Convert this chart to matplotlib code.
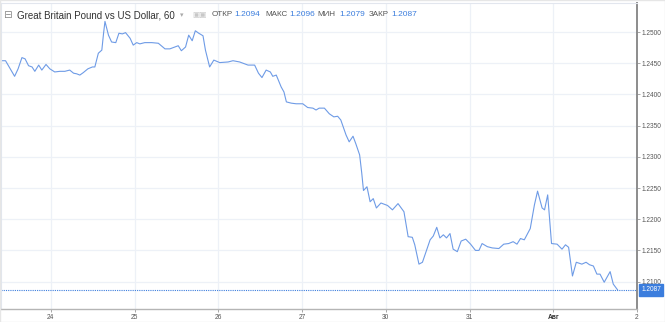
import matplotlib
matplotlib.use("Agg")
import matplotlib.pyplot as plt
from matplotlib.patches import Rectangle

# hourly bar index and GBP/USD price
hours = [0, 1, 3.6, 4.6, 5.7, 6.6, 7.6, 8.6, 9.4, 10.5, 11.4, 12.6, 13.7, 15.1, 16.6,
         18, 19.4, 20.5, 21.4, 22.3, 23.3, 24.6, 25.9, 26.6, 27.6, 28.6, 29.1, 29.5,
         30.5, 31.4, 32.6, 33.5, 34.5, 35.4, 36.7, 37.6, 38.6, 39.5, 40.9, 42.9, 44.8,
         46.7, 48.1, 49.5, 50.5, 51.4, 52.6, 53.5, 54.5, 55.4, 56.4, 57.6, 58.3, 59.5,
         60.7, 62.4, 64.8, 66.2, 68.1, 70.5, 72.4, 73.5, 74.5, 75.7, 76.9, 77.6, 78.6,
         80, 80.8, 81.5, 82.9, 84.3, 86.2, 87.6, 89.1, 90, 90.9, 92.4, 93.8, 95.1, 96.2,
         97.1, 98.6, 99.5, 100.6, 101.4, 102.5, 103.1, 103.6, 104.6, 105.5, 106.4, 107.3,
         108.6, 110.5, 111.9, 113.5, 115.2, 116.4, 117.6, 118.3, 119.5, 120.5, 122.7,
         123.6, 124.6, 125.5, 126.5, 127.4, 128.4, 129.3, 130.5, 131.6, 132.9, 134.3,
         135.7, 136.7, 137.6, 139.1, 140.5, 142.4, 143.8, 145.2, 146.5, 147.6, 148.6,
         149.7, 151.4, 152.6, 153.5, 154.8, 155.5, 156.4, 157.5, 159.1, 160.5, 161.5,
         162.4, 163.5, 164.6, 166.2, 167.4, 168.4, 169.5, 170.5, 171.4, 172.6, 174.3,
         175.2, 176.4]
prices = [1.2454, 1.2454, 1.2429, 1.2441, 1.2459, 1.2457, 1.2446, 1.2444, 1.2437, 1.2447,
          1.2439, 1.2448, 1.2441, 1.2436, 1.2437, 1.2437, 1.2439, 1.2434, 1.2433, 1.2431,
          1.2435, 1.2441, 1.2444, 1.2444, 1.2466, 1.2471, 1.2498, 1.2517, 1.2495, 1.2484,
          1.2483, 1.2498, 1.2497, 1.2499, 1.2490, 1.2479, 1.2483, 1.2481, 1.2483, 1.2483,
          1.2482, 1.2473, 1.2473, 1.2476, 1.2478, 1.2470, 1.2476, 1.2495, 1.2486, 1.2502,
          1.2498, 1.2494, 1.2471, 1.2444, 1.2455, 1.2451, 1.2452, 1.2454, 1.2452, 1.2447,
          1.2447, 1.2434, 1.2427, 1.2439, 1.2436, 1.2429, 1.2431, 1.2412, 1.2404, 1.2388,
          1.2386, 1.2385, 1.2385, 1.2379, 1.2378, 1.2375, 1.2378, 1.2378, 1.2369, 1.2364,
          1.2365, 1.2359, 1.2335, 1.2324, 1.2333, 1.2321, 1.2303, 1.2274, 1.2246, 1.2252,
          1.2228, 1.2233, 1.2218, 1.2226, 1.2222, 1.2215, 1.2225, 1.2212, 1.2172, 1.2171,
          1.2159, 1.2128, 1.2131, 1.2167, 1.2173, 1.2187, 1.2170, 1.2175, 1.2170, 1.2177,
          1.2152, 1.2148, 1.2165, 1.2168, 1.2160, 1.2150, 1.2150, 1.2161, 1.2156, 1.2154,
          1.2153, 1.2160, 1.2161, 1.2164, 1.2160, 1.2169, 1.2167, 1.2185, 1.2223, 1.2245,
          1.2218, 1.2215, 1.2239, 1.2161, 1.2160, 1.2152, 1.2159, 1.2155, 1.2109, 1.2131,
          1.2128, 1.2131, 1.2127, 1.2125, 1.2112, 1.2112, 1.2099, 1.2116, 1.2096, 1.2087]

day_pos = [14, 38, 62, 86, 110, 134, 158, 182]
day_labels = ["24", "25", "26", "27", "30", "31", "Авг", "2"]
price_ticks = [1.2100, 1.2150, 1.2200, 1.2250, 1.2300, 1.2350, 1.2400, 1.2450, 1.2500]
last_price = 1.2087
header = [("ОТКР", "1.2094"), ("МАКС", "1.2096"), ("МИН", "1.2079"), ("ЗАКР", "1.2087")]

W, H = 665, 322
line_col = "#6e9be6"
blue = "#3b7ddd"
grid_col = "#edf1f7"

plt.rcParams["font.family"] = ["Liberation Sans", "DejaVu Sans"]

fig = plt.figure(figsize=(W / 100, H / 100), dpi=100)
ax = fig.add_axes([1 / W, 13 / H, 636 / W, 306 / H])

ax.plot(hours, prices, color=line_col, lw=0.8)
ax.axhline(last_price, color=blue, lw=0.8, linestyle=(0, (1, 1)))

ax.set_xlim(-0.3, 182)
ax.set_ylim(1.20561, 1.25465)

ax.set_xticks(day_pos)
ax.set_xticklabels(day_labels)
ax.set_yticks(price_ticks)
ax.set_yticklabels(["%.4f" % p for p in price_ticks])
ax.yaxis.tick_right()
ax.tick_params(axis="y", length=2, pad=1.5, labelsize=4.7, colors="#999999",
               labelcolor="#555555", width=0.6)
ax.tick_params(axis="x", length=2, pad=1.5, labelsize=4.8, colors="#999999",
               labelcolor="#555555", width=0.6)
for lab in ax.get_xticklabels():
    if lab.get_text() == "Авг":
        lab.set_fontweight("bold")
        lab.set_color("#333333")

ax.grid(True, color=grid_col, lw=0.9)
ax.set_axisbelow(True)
for side in ["left", "top"]:
    ax.spines[side].set_color("#e2e6ee")
    ax.spines[side].set_linewidth(0.8)
ax.spines["right"].set_color("#8c8c8c")
ax.spines["right"].set_linewidth(1.4)
ax.spines["bottom"].set_color("#b5b5b5")
ax.spines["bottom"].set_linewidth(1.0)

# current price marker on the right scale
ax.annotate("%.4f" % last_price, xy=(1.0, last_price), xycoords=("axes fraction", "data"),
            xytext=(3, 0), textcoords="offset points", ha="left", va="center",
            fontsize=4.7, color="white",
            bbox=dict(boxstyle="square,pad=0.35", fc=blue, ec=blue))


def px(x, y):
    return x / W, 1 - y / H


# header line
fig.text(*px(3, 15), "⊟", fontsize=7.5, color="#888888", va="center",
         family=["DejaVu Sans"])
fig.text(*px(17, 15), "Great Britain Pound vs US Dollar, 60", fontsize=7,
         color="#333333", va="center")
fig.text(*px(180, 15), "▾", fontsize=5, color="#aaaaaa", va="center",
         family=["DejaVu Sans"])
fig.text(*px(192, 15), "▣▣", fontsize=5.5, color="#c8c8c8", va="center",
         family=["DejaVu Sans"])
label_x = [212, 265, 317, 369]
value_x = [234, 289, 339, 391]
for (name, val), lx, vx in zip(header, label_x, value_x):
    fig.text(*px(lx, 15), name, fontsize=5.8, color="#555555", va="center")
    fig.text(*px(vx, 15), val, fontsize=6, color=blue, va="center")

fig.patches.append(Rectangle((0, 0), 1, 1, transform=fig.transFigure, fill=False,
                             ec="#e6e6e6", lw=1.0))

fig.savefig("out.png", dpi=100)
